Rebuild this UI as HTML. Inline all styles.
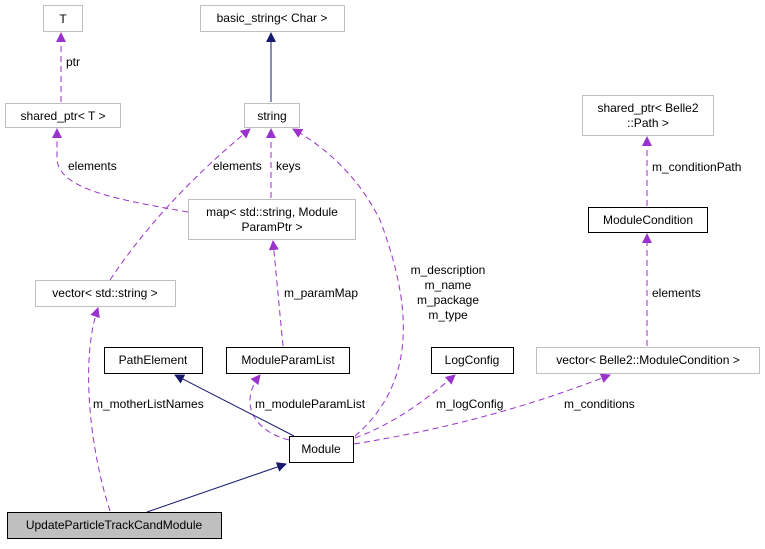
<!DOCTYPE html>
<html><head><meta charset="utf-8"><style>
html,body{margin:0;padding:0;background:#fff;}
svg text{font-family:"Liberation Sans",sans-serif;font-size:12px;fill:#000;}
</style></head><body>
<svg width="765" height="544" viewBox="0 0 765 544" xmlns="http://www.w3.org/2000/svg">
<defs>
<marker id="p" markerWidth="10" markerHeight="10" refX="9" refY="5" orient="auto" markerUnits="userSpaceOnUse"><path d="M0,0 L10,5 L0,10 z" fill="#9a32cd"/></marker>
<marker id="b" markerWidth="10" markerHeight="10" refX="9" refY="5" orient="auto" markerUnits="userSpaceOnUse"><path d="M0,0 L10,5 L0,10 z" fill="#191970"/></marker>
</defs>
<g fill="none" stroke-width="1">
<!-- purple dashed -->
<g stroke="#9a32cd" stroke-dasharray="6,4">
<path d="M61,102 L61,33" marker-end="url(#p)"/>
<path d="M188,212 C120,200 60,190 57,160 L57,129" marker-end="url(#p)"/>
<path d="M110,280 C150,220 200,170 250,129" marker-end="url(#p)"/>
<path d="M271,198 L271,129" marker-end="url(#p)"/>
<path d="M355,436 C420,380 410,300 380,220 C360,180 330,150 293,129" marker-end="url(#p)"/>
<path d="M283,346 L273,241" marker-end="url(#p)"/>
<path d="M110,511 C90,450 80,360 98,308" marker-end="url(#p)"/>
<path d="M289,440 C250,430 240,400 260,375" marker-end="url(#p)"/>
<path d="M355,438 C390,425 420,405 455,375" marker-end="url(#p)"/>
<path d="M354,444 C440,430 520,410 610,375" marker-end="url(#p)"/>
<path d="M647,346 L647,234" marker-end="url(#p)"/>
<path d="M647,206 L647,137" marker-end="url(#p)"/>
</g>
<!-- blue solid -->
<g stroke="#191970">
<path d="M271,102 L271,33" marker-end="url(#b)"/>
<path d="M294,436 L175,375" marker-end="url(#b)"/>
<path d="M147,512 L286,464" marker-end="url(#b)"/>
</g>
</g>
<!-- boxes -->
<g stroke="#bfbfbf" fill="#fff">
<rect x="43.5" y="5.5" width="39" height="26"/>
<rect x="5.5" y="103.5" width="115" height="24"/>
<rect x="200.5" y="5.5" width="144" height="26"/>
<rect x="244.5" y="103.5" width="55" height="24"/>
<rect x="188.5" y="199.5" width="167" height="40"/>
<rect x="35.5" y="280.5" width="140" height="26"/>
<rect x="536.5" y="347.5" width="223" height="26"/>
<rect x="582.5" y="95.5" width="131" height="40"/>
</g>
<g stroke="#000" fill="#fff">
<rect x="104.5" y="347.5" width="98" height="26"/>
<rect x="226.5" y="347.5" width="123" height="26"/>
<rect x="431.5" y="347.5" width="82" height="26"/>
<rect x="588.5" y="207.5" width="119" height="25"/>
<rect x="289.5" y="436.5" width="64" height="26"/>
<rect x="7.5" y="512.5" width="214" height="26" fill="#bfbfbf"/>
</g>
<g text-anchor="middle">
<text x="63" y="23">T</text>
<text x="63" y="120">shared_ptr&lt; T &gt;</text>
<text x="272" y="22">basic_string&lt; Char &gt;</text>
<text x="272" y="120">string</text>
<text x="272" y="216">map&lt; std::string, Module</text>
<text x="272" y="231">ParamPtr &gt;</text>
<text x="105" y="297">vector&lt; std::string &gt;</text>
<text x="153" y="364">PathElement</text>
<text x="288" y="364">ModuleParamList</text>
<text x="472" y="364">LogConfig</text>
<text x="648" y="364">vector&lt; Belle2::ModuleCondition &gt;</text>
<text x="648" y="112">shared_ptr&lt; Belle2</text>
<text x="648" y="127">::Path &gt;</text>
<text x="648" y="224">ModuleCondition</text>
<text x="321" y="453">Module</text>
<text x="114" y="529">UpdateParticleTrackCandModule</text>
<text x="448" y="274">m_description</text>
<text x="448" y="289">m_name</text>
<text x="448" y="304">m_package</text>
<text x="448" y="319">m_type</text>
</g>
<text x="66" y="66">ptr</text>
<text x="68" y="170">elements</text>
<text x="213" y="170">elements</text>
<text x="276" y="170">keys</text>
<text x="284" y="297">m_paramMap</text>
<text x="652" y="171">m_conditionPath</text>
<text x="652" y="297">elements</text>
<text x="93" y="408">m_motherListNames</text>
<text x="255" y="408">m_moduleParamList</text>
<text x="436" y="408">m_logConfig</text>
<text x="564" y="408">m_conditions</text>
</svg>
</body></html>
